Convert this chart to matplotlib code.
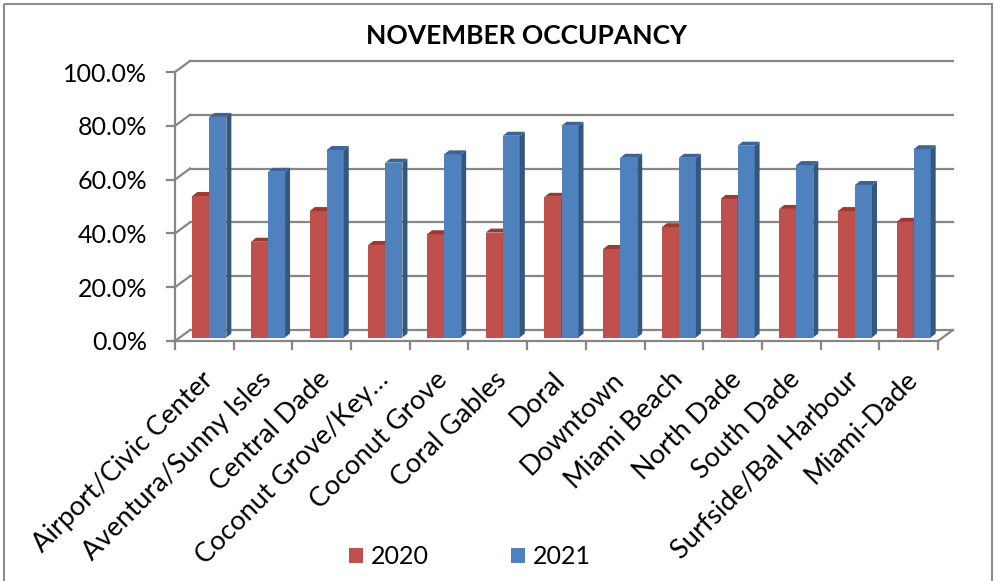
import matplotlib
matplotlib.use('Agg')
import matplotlib.pyplot as plt
from matplotlib.transforms import Affine2D, IdentityTransform
from matplotlib.patches import Polygon, Rectangle
from matplotlib.lines import Line2D

categories = ['Airport/Civic Center', 'Aventura/Sunny Isles', 'Central Dade',
              'Coconut Grove/Key\u2026', 'Coconut Grove', 'Coral Gables', 'Doral',
              'Downtown', 'Miami Beach', 'North Dade', 'South Dade',
              'Surfside/Bal Harbour', 'Miami-Dade']
occ_2020 = [52.6, 35.6, 47.0, 34.4, 38.4, 39.0, 52.3, 32.9, 41.0, 51.5, 47.8, 47.0, 43.0]
occ_2021 = [82.0, 61.6, 69.7, 65.0, 68.1, 75.0, 78.7, 66.8, 66.8, 71.3, 64.1, 56.7, 70.0]
series_names = ['2020', '2021']
y_ticks = [0, 20, 40, 60, 80, 100]
y_tick_labels = ['0.0%', '20.0%', '40.0%', '60.0%', '80.0%', '100.0%']
title = 'NOVEMBER OCCUPANCY'

plt.rcParams['font.family'] = ['Lato', 'DejaVu Sans']

W, H = 996, 581
fig = plt.figure(figsize=(W / 100, H / 100), dpi=100)
fig.patch.set_facecolor('white')
ax = fig.add_axes([175 / W, 1 - 341 / H, 763 / W, 269 / H])
n = len(categories)
ax.set_xlim(-0.5, n - 0.5)
ax.set_ylim(0, 100)
ax.axis('off')

grid_c = '#868686'
grid_lw = 1.6
front = ax.transData
back = ax.transData + Affine2D().translate(15, 11)
bar_t = ax.transData + Affine2D().translate(5, 3.5)
ident = IdentityTransform()
pix = Affine2D().scale(1, -1).translate(0, H)


def dline(p, q, **kw):
    ax.add_line(Line2D([p[0], q[0]], [p[1], q[1]], transform=ident,
                       clip_on=False, **kw))


x0, x1 = -0.5, n - 0.5
# back wall gridlines + left side diagonals
for v in y_ticks:
    pb0 = back.transform((x0, v))
    pb1 = back.transform((x1, v))
    pf = front.transform((x0, v))
    dline(pb0, pb1, color=grid_c, lw=grid_lw)
    dline(pf, pb0, color=grid_c, lw=grid_lw)
    dline(pf, (pf[0] - 8, pf[1]), color=grid_c, lw=grid_lw)
# floor front edge and right diagonal
pf0 = front.transform((x0, 0))
pf1 = front.transform((x1, 0))
dline(pf0, pf1, color=grid_c, lw=grid_lw)
dline(pf1, back.transform((x1, 0)), color=grid_c, lw=grid_lw)
# front vertical axis
dline(front.transform((x0, 0)), front.transform((x0, 100)), color=grid_c, lw=grid_lw)
# category ticks
for k in range(n + 1):
    p = front.transform((k - 0.5, 0))
    dline(p, (p[0], p[1] - 8), color=grid_c, lw=grid_lw)

# bars
bw = 0.29
dep = (5, 4)
styles = [
    dict(face='#C0504D', side='#8C312E', top='#9E3835'),
    dict(face='#4F81BD', side='#34567F', top='#3D6494'),
]

for i in range(n):
    for s, (vals, st) in enumerate(zip([occ_2020, occ_2021], styles)):
        xl = i - bw + s * bw
        xr = xl + bw
        v = vals[i]
        z = 3 + i * 0.01 + s * 0.001
        rect = Rectangle((xl, 0), bw, v, transform=bar_t, facecolor=st['face'],
                         edgecolor='none', clip_on=False, zorder=z)
        ax.add_patch(rect)
        pr0 = bar_t.transform((xr, 0))
        pr1 = bar_t.transform((xr, v))
        pl1 = bar_t.transform((xl, v))
        side = Polygon([pr0, pr1, (pr1[0] + dep[0], pr1[1] + dep[1]),
                        (pr0[0] + dep[0], pr0[1] + dep[1])], closed=True,
                       transform=ident, facecolor=st['side'], edgecolor='none',
                       clip_on=False, zorder=z)
        top = Polygon([pl1, pr1, (pr1[0] + dep[0], pr1[1] + dep[1]),
                       (pl1[0] + dep[0], pl1[1] + dep[1])], closed=True,
                      transform=ident, facecolor=st['top'], edgecolor='none',
                      clip_on=False, zorder=z)
        ax.add_patch(side)
        ax.add_patch(top)

# y tick labels
ylab_t = front + Affine2D().translate(-28, -2)
for v, lab in zip(y_ticks, y_tick_labels):
    ax.text(x0, v, lab, transform=ylab_t, ha='right', va='center', fontsize=18,
            color='black')

# category labels
xlab_t = front + Affine2D().translate(10, -40)
for i, lab in enumerate(categories):
    ax.text(i, 0, lab, transform=xlab_t, rotation=45, rotation_mode='anchor',
            ha='right', va='baseline', fontsize=19.5, color='black')

# title
fig.text(527, 36, title, transform=pix, ha='center', va='center',
         fontsize=19, fontweight='bold', color='black')

# legend
leg_x = [349, 511]
for name, st, lx in zip(series_names, styles, leg_x):
    fig.patches.append(Rectangle((lx, 548), 14, 15, transform=pix,
                                 facecolor=st['face'], edgecolor='none'))
    fig.text(lx + 22, 556, name, transform=pix, ha='left', va='center',
             fontsize=18, color='black')

# outer border
fig.patches.append(Rectangle((4, 4), 988, 590, transform=pix, facecolor='none',
                             edgecolor='#8C8C8C', lw=1.5))

fig.savefig('out.png', dpi=100)
